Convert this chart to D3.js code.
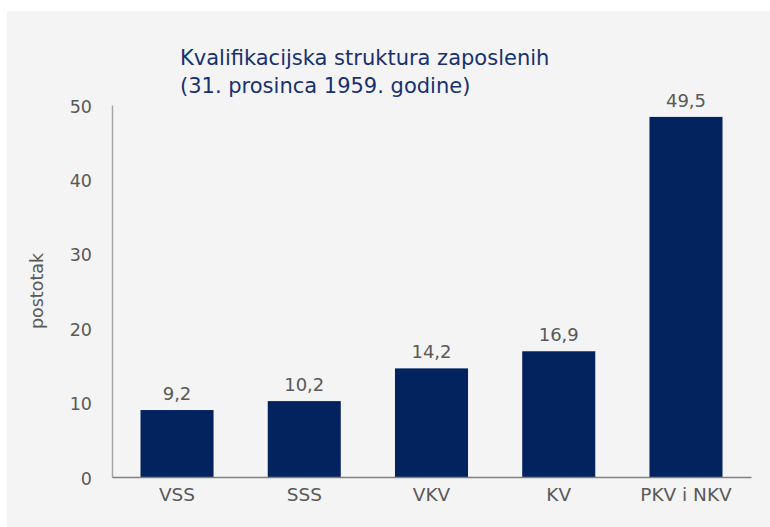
<!DOCTYPE html>
<html>
<head>
<meta charset="utf-8">
<script src="https://cdn.jsdelivr.net/npm/d3@7"></script>
<style>
    html, body { margin: 0; padding: 0; background: #fff; }
    svg { display: block; }
</style>
</head>
<body>
<div id="chart"></div>
<script>
// Kvalifikacijska struktura zaposlenih - bar chart (D3.js v7)

const categories = ['VSS', 'SSS', 'VKV', 'KV', 'PKV i NKV'];
// bar heights as drawn in the picture
const barValues = [9.0, 10.2, 14.6, 16.9, 48.4];
// printed labels above the bars
const valueLabels = ['9,2', '10,2', '14,2', '16,9', '49,5'];
const yTicks = [0, 10, 20, 30, 40, 50];
const titleLines = ['Kvalifikacijska struktura zaposlenih', '(31. prosinca 1959. godine)'];

const width = 770;
const height = 527;
const FONT = '"DejaVu Sans", Verdana, sans-serif';
const TEXT_COLOR = '#595959';
const BAR_COLOR = '#02235e';

const svg = d3.select('#chart')
    .append('svg')
    .attr('width', width)
    .attr('height', height);

// Gray panel
svg.append('rect')
    .attr('x', 7)
    .attr('y', 11)
    .attr('width', width - 7)
    .attr('height', height - 11)
    .attr('fill', '#f4f4f4');

const x = d3.scaleBand()
    .domain(categories)
    .range([112, 751])
    .paddingInner(0.426)
    .paddingOuter(0.224);

const y = d3.scaleLinear()
    .domain([0, 50])
    .range([477, 105]);

// Bars
svg.append('g')
    .selectAll('rect')
    .data(categories)
    .join('rect')
    .attr('x', d => x(d))
    .attr('y', (d, i) => y(barValues[i]))
    .attr('width', x.bandwidth())
    .attr('height', (d, i) => y(0) - y(barValues[i]))
    .attr('fill', BAR_COLOR);

// Value labels
svg.append('g')
    .selectAll('text')
    .data(categories)
    .join('text')
    .attr('x', d => x(d) + x.bandwidth() / 2)
    .attr('y', (d, i) => y(barValues[i]) - 10)
    .attr('text-anchor', 'middle')
    .attr('font-family', FONT)
    .attr('font-size', '18px')
    .attr('fill', TEXT_COLOR)
    .text((d, i) => valueLabels[i]);

// Y axis
const yAxis = svg.append('g')
    .attr('transform', 'translate(112,0)')
    .call(d3.axisLeft(y).tickValues(yTicks).tickSize(0).tickPadding(20).tickFormat(d3.format('d')));
yAxis.select('.domain').attr('stroke', '#a6a6a6').attr('stroke-width', 1.5);
yAxis.selectAll('text')
    .attr('font-family', FONT)
    .attr('font-size', '17.5px')
    .attr('fill', TEXT_COLOR)
    .attr('dy', '0.4em');

// X axis
const xAxis = svg.append('g')
    .attr('transform', `translate(0,${y(0)})`)
    .call(d3.axisBottom(x).tickSize(0).tickPadding(11));
xAxis.select('.domain').attr('stroke', '#808080').attr('stroke-width', 1.5);
xAxis.selectAll('text')
    .attr('font-family', FONT)
    .attr('font-size', '18.5px')
    .attr('fill', TEXT_COLOR);

// Y axis title
svg.append('text')
    .attr('transform', 'translate(43,291) rotate(-90)')
    .attr('text-anchor', 'middle')
    .attr('font-family', FONT)
    .attr('font-size', '17.5px')
    .attr('fill', TEXT_COLOR)
    .text('postotak');

// Title
svg.append('g')
    .selectAll('text')
    .data(titleLines)
    .join('text')
    .attr('x', 180)
    .attr('y', (d, i) => 65 + i * 28)
    .attr('font-family', FONT)
    .attr('font-size', '21px')
    .attr('fill', '#173170')
    .text(d => d);
</script>
</body>
</html>
